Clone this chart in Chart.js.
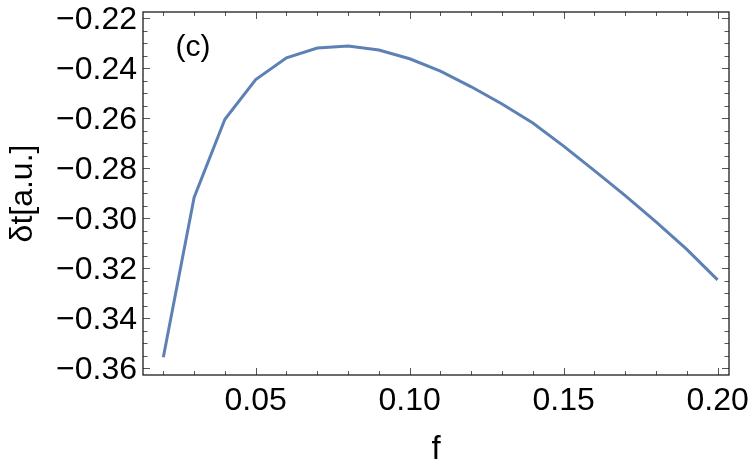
<!DOCTYPE html>
<html>
<head>
<meta charset="utf-8">
<script src="https://cdn.jsdelivr.net/npm/chart.js@4/dist/chart.umd.min.js"></script>
<style>
  html, body { margin: 0; padding: 0; background: #ffffff; }
  #wrap { width: 750px; height: 471px; }
</style>
</head>
<body>
<div id="wrap"><canvas id="c" width="750" height="471"></canvas></div>
<script>
// ---- data ----
const fValues = [0.02, 0.03, 0.04, 0.05, 0.06, 0.07, 0.08, 0.09, 0.10, 0.11,
                 0.12, 0.13, 0.14, 0.15, 0.16, 0.17, 0.18, 0.19, 0.20];
const dtValues = [-0.3556, -0.2917, -0.2605, -0.2446, -0.2359, -0.2320, -0.2312, -0.2328, -0.2363, -0.2412,
                  -0.2475, -0.2544, -0.2620, -0.2712, -0.2810, -0.2910, -0.3015, -0.3125, -0.3247];
const xTickValues = [0.05, 0.10, 0.15, 0.20];
const yTickValues = [-0.36, -0.34, -0.32, -0.30, -0.28, -0.26, -0.24, -0.22];
const xMinorTicks = [0.02, 0.03, 0.04, 0.06, 0.07, 0.08, 0.09, 0.11, 0.12, 0.13, 0.14, 0.16, 0.17, 0.18, 0.19];
const yMinorTicks = [-0.355, -0.35, -0.345, -0.335, -0.33, -0.325, -0.315, -0.31, -0.305,
                     -0.295, -0.29, -0.285, -0.275, -0.27, -0.265, -0.255, -0.25, -0.245,
                     -0.235, -0.23, -0.225];
const xRange = [0.0134, 0.2037];
const yRange = [-0.3627, -0.2176];
const xTitle = 'f';
const yTitle = 'δt[a.u.]';
const panelLabel = '(c)';

const FONT = '"Liberation Sans", Arial, Helvetica, sans-serif';
const fmt = v => Number(v).toFixed(2).replace('-', '\u2212');

const framePlugin = {
  id: 'mmaFrame',
  afterDraw(chart) {
    const ctx = chart.ctx;
    const a = chart.chartArea;
    const xs = chart.scales.x, ys = chart.scales.y;
    ctx.save();
    ctx.strokeStyle = 'rgb(85,85,85)';
    ctx.lineWidth = 1;
    const vt = (v, len) => {
      const px = Math.round(xs.getPixelForValue(v)) + 0.5;
      ctx.beginPath();
      ctx.moveTo(px, a.bottom); ctx.lineTo(px, a.bottom - len);
      ctx.moveTo(px, a.top); ctx.lineTo(px, a.top + len);
      ctx.stroke();
    };
    const ht = (v, len) => {
      const py = Math.round(ys.getPixelForValue(v)) + 0.5;
      ctx.beginPath();
      ctx.moveTo(a.left, py); ctx.lineTo(a.left + len, py);
      ctx.moveTo(a.right, py); ctx.lineTo(a.right - len, py);
      ctx.stroke();
    };
    xTickValues.forEach(v => vt(v, 7));
    xMinorTicks.forEach(v => vt(v, 4));
    yTickValues.forEach(v => ht(v, 7));
    yMinorTicks.forEach(v => ht(v, 4.5));
    ctx.strokeStyle = 'rgb(30,30,30)';
    ctx.lineWidth = 1.3;
    ctx.strokeRect(a.left, a.top, a.right - a.left, a.bottom - a.top);
    ctx.fillStyle = '#000';
    ctx.font = '30px ' + FONT;
    ctx.textAlign = 'center';
    ctx.textBaseline = 'middle';
    ctx.fillText(panelLabel, a.left + 50, a.top + 36);
    ctx.restore();
  }
};

new Chart(document.getElementById('c'), {
  type: 'line',
  data: {
    datasets: [{
      data: fValues.map((f, i) => ({ x: f, y: dtValues[i] })),
      borderColor: '#5E81B5',
      borderWidth: 3,
      pointRadius: 0,
      tension: 0,
      fill: false
    }]
  },
  options: {
    responsive: false,
    devicePixelRatio: 1,
    animation: false,
    layout: { padding: { left: 0, right: 21, top: 12, bottom: 0 } },
    plugins: { legend: { display: false }, tooltip: { enabled: false } },
    scales: {
      x: {
        type: 'linear',
        min: xRange[0], max: xRange[1],
        afterFit(s) { s.height = 96; s.paddingLeft = 0; s.paddingRight = 0; },
        afterBuildTicks(s) { s.ticks = xTickValues.map(v => ({ value: v })); },
        grid: { display: false, drawTicks: false },
        border: { display: false },
        ticks: {
          autoSkip: false, maxRotation: 0, padding: 7,
          color: '#000', font: { family: FONT, size: 32 },
          callback: v => fmt(v)
        },
        title: {
          display: true, text: xTitle, color: '#000',
          font: { family: FONT, size: 33 }, padding: { top: 0, bottom: 1 }
        }
      },
      y: {
        type: 'linear',
        min: yRange[0], max: yRange[1],
        afterFit(s) { s.width = 143; s.paddingTop = 0; s.paddingBottom = 0; },
        afterBuildTicks(s) { s.ticks = yTickValues.map(v => ({ value: v })); },
        grid: { display: false, drawTicks: false },
        border: { display: false },
        ticks: {
          autoSkip: false, padding: 6, labelOffset: 2,
          color: '#000', font: { family: FONT, size: 32 },
          callback: v => fmt(v)
        },
        title: {
          display: true, text: yTitle, color: '#000',
          font: { family: FONT, size: 32 }, padding: { top: 4, bottom: 0 }
        }
      }
    }
  },
  plugins: [framePlugin]
});
</script>
</body>
</html>
